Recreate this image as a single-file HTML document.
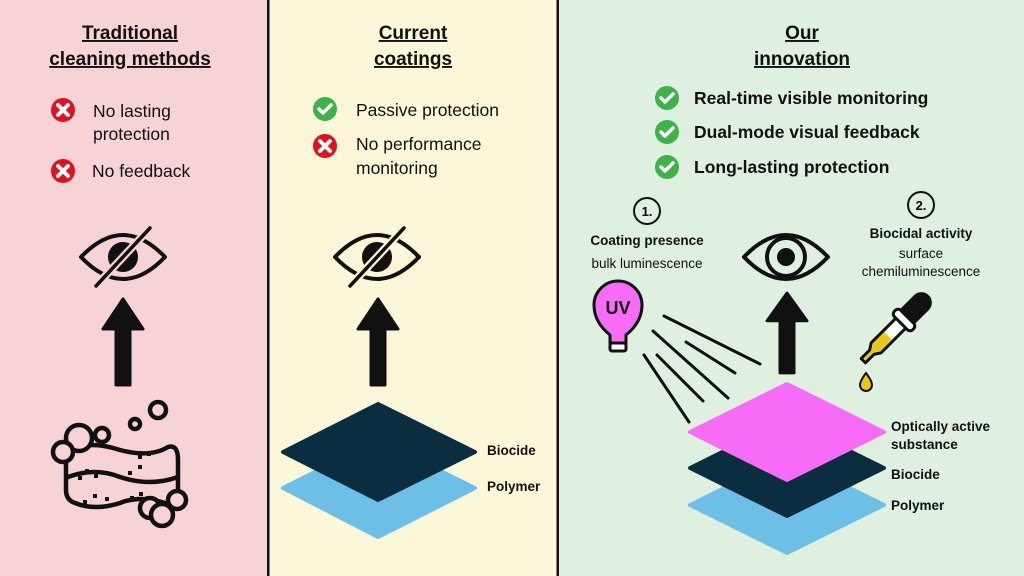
<!DOCTYPE html>
<html><head><meta charset="utf-8"><style>
html,body{margin:0;padding:0;width:1024px;height:576px;overflow:hidden}
svg text{font-family:"Liberation Sans",sans-serif}
</style></head><body>
<svg width="1024" height="576" viewBox="0 0 1024 576" xmlns="http://www.w3.org/2000/svg">
<rect x="0" y="0" width="268" height="576" fill="#f8d3d6"/>
<rect x="268" y="0" width="290" height="576" fill="#fcf7d9"/>
<rect x="558" y="0" width="466" height="576" fill="#dff0e0"/>
<rect x="267" y="0" width="2.5" height="576" fill="#111"/>
<rect x="556.5" y="0" width="2.5" height="576" fill="#111"/>

<!-- headings -->
<g font-weight="bold" font-size="19" text-anchor="middle" fill="#111" text-decoration="underline">
<text x="130" y="39">Traditional</text>
<text x="130" y="65">cleaning methods</text>
<text x="413" y="39">Current</text>
<text x="413" y="65">coatings</text>
<text x="802" y="39">Our</text>
<text x="802" y="65">innovation</text>
</g>

<defs>
<g id="x"><circle r="12" fill="#e3101f"/><path d="M-5,-5L5,5M5,-5L-5,5" stroke="#fff" stroke-width="4" stroke-linecap="round"/></g>
<g id="c"><circle r="12" fill="#3db34a"/><path d="M-6,0L-2,4L6,-4" stroke="#fff" stroke-width="3.5" fill="none" stroke-linecap="round" stroke-linejoin="round"/></g>
<g id="eye"><path d="M-42,0Q0,-44 42,0Q0,44 -42,0Z" fill="none" stroke="#111" stroke-width="4" stroke-linejoin="round"/></g>
<g id="arrow"><path d="M0,0L-20,30L-7,30L-7,86L7,86L7,30L20,30Z" fill="#111" stroke="#111" stroke-width="3" stroke-linejoin="round"/></g>
</defs>

<!-- left list -->
<use href="#x" x="63" y="110"/>
<use href="#x" x="63" y="171"/>
<g font-size="17.5" fill="#111">
<text x="93" y="117">No lasting</text>
<text x="93" y="140">protection</text>
<text x="92" y="177">No feedback</text>
<text x="356" y="116">Passive protection</text>
<text x="356" y="150">No performance</text>
<text x="356" y="174">monitoring</text>
</g>
<use href="#c" x="325" y="109"/>
<use href="#x" x="325" y="146"/>

<!-- right list -->
<use href="#c" x="667" y="98"/>
<use href="#c" x="667" y="132"/>
<use href="#c" x="667" y="167"/>
<g font-size="17.5" font-weight="bold" fill="#111">
<text x="694" y="104">Real-time visible monitoring</text>
<text x="694" y="138">Dual-mode visual feedback</text>
<text x="694" y="173">Long-lasting protection</text>
</g>

<!-- eyes -->
<g transform="translate(123,257)"><use href="#eye"/><circle r="15" fill="#111"/><line x1="-28" y1="30" x2="28" y2="-30" stroke="#f8d3d6" stroke-width="8"/><line x1="-27" y1="29" x2="27" y2="-29" stroke="#111" stroke-width="3.5" stroke-linecap="round"/></g>
<g transform="translate(377,257)"><use href="#eye"/><circle r="15" fill="#111"/><line x1="-28" y1="30" x2="28" y2="-30" stroke="#fcf7d9" stroke-width="8"/><line x1="-27" y1="29" x2="27" y2="-29" stroke="#111" stroke-width="3.5" stroke-linecap="round"/></g>
<g transform="translate(786,257)"><use href="#eye"/><circle r="19" fill="none" stroke="#111" stroke-width="4"/><circle r="9" fill="#111"/></g>

<use href="#arrow" x="123" y="299"/>
<use href="#arrow" x="378" y="299"/>
<g transform="translate(787,293) scale(1,0.93)"><use href="#arrow"/></g>

<!-- sponge -->
<g fill="none" stroke="#111" stroke-width="4.5" stroke-linecap="round">
<path d="M68,450Q90,440 120,450Q150,458 168,447Q178,444 178,460L178,494Q178,508 165,503Q140,495 120,503Q95,511 75,503Q66,500 66,490L66,462Z" fill="#f8d3d6"/>
<path d="M68,477Q95,467 120,477Q150,487 178,477"/>
<circle cx="79" cy="438" r="13" fill="#f8d3d6"/><circle cx="102" cy="435" r="7" fill="#f8d3d6"/><circle cx="63" cy="452" r="10" fill="#f8d3d6"/>
<circle cx="135" cy="424" r="5"/><circle cx="158" cy="410" r="8"/>
<circle cx="150" cy="508" r="10" fill="#f8d3d6"/><circle cx="162" cy="515" r="11" fill="#f8d3d6"/><circle cx="177" cy="500" r="9" fill="#f8d3d6"/>
</g>
<g fill="#111">
<rect x="78" y="476" width="4" height="4"/><rect x="85" y="469" width="4" height="4"/><rect x="94" y="474" width="4" height="4"/><rect x="128" y="471" width="4" height="4"/><rect x="138" y="465" width="4" height="4"/><rect x="138" y="455" width="4" height="4"/><rect x="147" y="452" width="4" height="4"/>
<rect x="83" y="500" width="4" height="4"/><rect x="93" y="494" width="4" height="4"/><rect x="105" y="497" width="4" height="4"/><rect x="130" y="496" width="4" height="4"/><rect x="139" y="492" width="4" height="4"/>
</g>

<!-- middle layers -->
<path d="M378,440L475,488L378,537L283,488Z" fill="#6dbfe6" stroke="#6dbfe6" stroke-width="4" stroke-linejoin="round"/>
<path d="M378,404L475,452L378,500L283,452Z" fill="#0a2e40" stroke="#0a2e40" stroke-width="4" stroke-linejoin="round"/>
<g font-size="13.5" font-weight="bold" fill="#111">
<text x="487" y="455">Biocide</text>
<text x="487" y="491">Polymer</text>
<text x="891" y="431">Optically active</text>
<text x="891" y="449">substance</text>
<text x="891" y="479">Biocide</text>
<text x="891" y="510">Polymer</text>
</g>

<!-- right layers -->
<path d="M787,457L884,505L787,553L690,505Z" fill="#6dbfe6" stroke="#6dbfe6" stroke-width="4" stroke-linejoin="round"/>
<path d="M787,420L884,468L787,516L690,468Z" fill="#0a2e40" stroke="#0a2e40" stroke-width="4" stroke-linejoin="round"/>
<path d="M787,384L884,432L787,480L690,432Z" fill="#f66cf6" stroke="#f66cf6" stroke-width="4" stroke-linejoin="round"/>

<!-- numbered circles -->
<circle cx="647" cy="211" r="13" fill="none" stroke="#111" stroke-width="2"/>
<text x="647" y="216" font-size="13" font-weight="bold" text-anchor="middle">1.</text>
<circle cx="921" cy="205" r="13" fill="none" stroke="#111" stroke-width="2"/>
<text x="921" y="210" font-size="13" font-weight="bold" text-anchor="middle">2.</text>
<g font-size="13.5" text-anchor="middle" fill="#111">
<text x="647" y="245" font-weight="bold">Coating presence</text>
<text x="647" y="268">bulk luminescence</text>
<text x="921" y="238" font-weight="bold">Biocidal activity</text>
<text x="921" y="258">surface</text>
<text x="921" y="276">chemiluminescence</text>
</g>

<!-- UV bulb -->
<path d="M610,335Q594,322 594,305A24,24 0 1 1 642,305Q642,322 626,335L626,343L610,343Z" fill="#f66cf6" stroke="#111" stroke-width="3" stroke-linejoin="round"/>
<rect x="610" y="343" width="16" height="8" rx="2" fill="#fff" stroke="#111" stroke-width="3"/>
<text x="618" y="314" font-size="18" font-weight="bold" text-anchor="middle" fill="#111">UV</text>
<g stroke="#111" stroke-width="3" stroke-linecap="round">
<line x1="664" y1="316" x2="760" y2="364"/>
<line x1="686" y1="342" x2="735" y2="373"/>
<line x1="653" y1="331" x2="728" y2="398"/>
<line x1="657" y1="355" x2="703" y2="401"/>
<line x1="644" y1="355" x2="689" y2="422"/>
</g>

<!-- dropper -->
<g transform="translate(927,297) rotate(45)" stroke="#111" stroke-width="3" stroke-linejoin="round">
<path d="M-9,30L-9,8A9,9 0 0 1 9,8L9,30Z" fill="#111"/>
<rect x="-13" y="28" width="26" height="9" rx="4" fill="#fff"/>
<path d="M-7,37L7,37L7,72L3,78L3,90L-3,90L-3,78L-7,72Z" fill="#fff"/>
<path d="M-5.5,55L5.5,55L5.5,71L1.5,77L1.5,88L-1.5,88L-1.5,77L-5.5,71Z" fill="#e8c81a" stroke="none"/>
</g>
<path d="M866,373Q860,381 860,385A6,6 0 0 0 872,385Q872,381 866,373Z" fill="#e8c81a" stroke="#111" stroke-width="2"/>
</svg>
</body></html>
